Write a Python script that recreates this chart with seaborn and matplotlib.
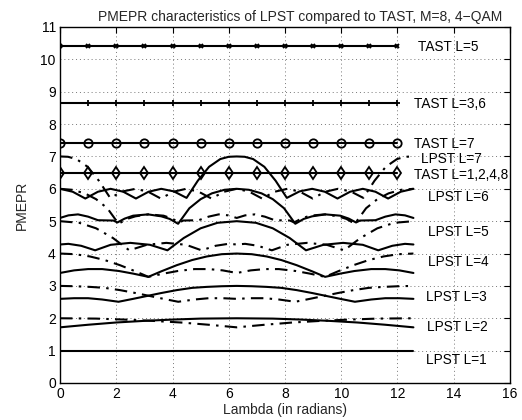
import matplotlib
matplotlib.use("Agg")
import matplotlib.pyplot as plt
import seaborn as sns

sns.set_theme(style="white")
plt.rcParams['font.family'] = ['Liberation Sans', 'DejaVu Sans']

# ---------------- data ----------------
tast_x = [0, 1, 2, 3, 4, 5, 6, 7, 8, 9, 10, 11, 12]
tast_l5 = [10.4, 10.4, 10.4, 10.4, 10.4, 10.4, 10.4, 10.4, 10.4, 10.4, 10.4, 10.4, 10.4]
tast_l36 = [8.66, 8.66, 8.66, 8.66, 8.66, 8.66, 8.66, 8.66, 8.66, 8.66, 8.66, 8.66, 8.66]
tast_l7 = [7.42, 7.42, 7.42, 7.42, 7.42, 7.42, 7.42, 7.42, 7.42, 7.42, 7.42, 7.42, 7.42]
tast_l1248 = [6.49, 6.49, 6.49, 6.49, 6.49, 6.49, 6.49, 6.49, 6.49, 6.49, 6.49, 6.49, 6.49]

l7_x = [0, 0.45, 0.9, 1.35, 1.8, 2.25, 2.7, 3.15, 3.6, 4.05, 4.5, 4.9, 5.3, 5.7, 6.0, 6.283,
        6.566, 6.866, 7.266, 7.666, 8.066, 8.516, 8.966, 9.416, 9.866, 10.316, 10.766, 11.216,
        11.666, 12.116, 12.566]
l7_y = [6.00, 5.91, 5.70, 5.91, 6.00, 5.91, 5.70, 5.91, 6.00, 5.92, 5.72, 6.25, 6.68, 6.92, 6.99, 7.00,
        6.99, 6.92, 6.68, 6.25, 5.72, 5.92, 6.00, 5.91, 5.70, 5.91, 6.00, 5.91, 5.70, 5.91, 6.00]
l7d_x = [0, 0.283, 0.583, 0.983, 1.383, 1.783, 2.233, 2.683, 3.133, 3.583, 4.033, 4.483, 4.933,
         5.383, 5.833, 6.283, 6.733, 7.183, 7.633, 8.083, 8.533, 8.983, 9.433, 9.883, 10.333,
         10.783, 11.183, 11.583, 11.983, 12.283, 12.566]
l7d_y = [7.00, 6.99, 6.92, 6.68, 6.25, 5.72, 5.92, 6.00, 5.91, 5.70, 5.91, 6.00, 5.91, 5.70, 5.91,
         6.00, 5.91, 5.70, 5.91, 6.00, 5.91, 5.70, 5.91, 6.00, 5.92, 5.72, 6.25, 6.68, 6.92, 6.99, 7.00]

l6_x = [0, 0.3, 0.64, 1.0, 1.35, 1.9, 2.04, 2.3, 2.6, 3.13, 3.6, 3.9, 4.2, 4.6, 5.0, 5.4, 5.85, 6.283,
        6.716, 7.166, 7.566, 7.966, 8.366, 8.666, 8.966, 9.436, 9.966, 10.266, 10.526, 10.666,
        11.216, 11.566, 11.926, 12.266, 12.566]
l6_y = [5.10, 5.18, 5.21, 5.14, 5.03, 5.02, 4.96, 5.08, 5.17, 5.21, 5.15, 5.07, 4.92, 5.40, 5.68, 5.86,
        5.97, 6.00, 5.97, 5.86, 5.68, 5.40, 4.92, 5.07, 5.15, 5.21, 5.17, 5.08, 4.96, 5.02, 5.03, 5.14,
        5.21, 5.18, 5.10]
l6d_x = [0, 0.433, 0.883, 1.283, 1.683, 2.083, 2.383, 2.683, 3.153, 3.683, 3.983, 4.243, 4.383,
         4.933, 5.283, 5.643, 5.983, 6.283, 6.583, 6.923, 7.283, 7.633, 8.183, 8.323, 8.583, 8.883,
         9.413, 9.883, 10.183, 10.483, 10.883, 11.283, 11.683, 12.133, 12.566]
l6d_y = [6.00, 5.97, 5.86, 5.68, 5.40, 4.92, 5.07, 5.15, 5.21, 5.17, 5.08, 4.96, 5.02, 5.03, 5.14,
         5.21, 5.18, 5.10, 5.18, 5.21, 5.14, 5.03, 5.02, 4.96, 5.08, 5.17, 5.21, 5.15, 5.07, 4.92,
         5.40, 5.68, 5.86, 5.97, 6.00]

l5_x = [0, 0.3, 0.75, 1.25, 1.8, 2.5, 3.2, 3.82, 4.4, 5.0, 5.6, 6.283, 6.966, 7.566, 8.166, 8.746,
        9.366, 10.066, 10.766, 11.316, 11.816, 12.266, 12.566]
l5_y = [4.28, 4.30, 4.24, 4.10, 4.27, 4.33, 4.27, 4.10, 4.48, 4.78, 4.95, 5.00, 4.95, 4.78, 4.48,
        4.10, 4.27, 4.33, 4.27, 4.10, 4.24, 4.30, 4.28]
l5d_x = [0, 0.683, 1.283, 1.883, 2.463, 3.083, 3.783, 4.483, 5.033, 5.533, 5.983, 6.283, 6.583,
         7.033, 7.533, 8.083, 8.783, 9.483, 10.103, 10.683, 11.283, 11.883, 12.566]
l5d_y = [5.00, 4.95, 4.78, 4.48, 4.10, 4.27, 4.33, 4.27, 4.10, 4.24, 4.30, 4.28, 4.30, 4.24, 4.10,
         4.27, 4.33, 4.27, 4.10, 4.48, 4.78, 4.95, 5.00]

l4_x = [0, 0.5, 1.0, 1.5, 2.1, 2.6, 3.14, 3.6, 4.15, 4.7, 5.22, 5.75, 6.283, 6.816, 7.346, 7.866,
        8.416, 8.966, 9.426, 9.966, 10.466, 11.066, 11.566, 12.066, 12.566]
l4_y = [3.40, 3.48, 3.52, 3.52, 3.46, 3.38, 3.28, 3.45, 3.64, 3.80, 3.91, 3.98, 4.00, 3.98, 3.91,
        3.80, 3.64, 3.45, 3.28, 3.38, 3.46, 3.52, 3.52, 3.48, 3.40]
l4d_x = [0, 0.533, 1.063, 1.583, 2.133, 2.683, 3.143, 3.683, 4.183, 4.783, 5.283, 5.783, 6.283,
         6.783, 7.283, 7.783, 8.383, 8.883, 9.423, 9.883, 10.433, 10.983, 11.503, 12.033, 12.566]
l4d_y = [4.00, 3.98, 3.91, 3.80, 3.64, 3.45, 3.28, 3.38, 3.46, 3.52, 3.52, 3.48, 3.40, 3.48, 3.52,
         3.52, 3.46, 3.38, 3.28, 3.45, 3.64, 3.80, 3.91, 3.98, 4.00]

l3_x = [0, 0.5, 1.0, 1.5, 2.08, 2.6, 3.1, 3.6, 4.15, 4.7, 5.22, 5.75, 6.283, 6.816, 7.346, 7.866,
        8.416, 8.966, 9.466, 9.966, 10.486, 11.066, 11.566, 12.066, 12.566]
l3_y = [2.60, 2.62, 2.62, 2.58, 2.51, 2.60, 2.69, 2.78, 2.87, 2.94, 2.97, 2.99, 3.00, 2.99, 2.97,
        2.94, 2.87, 2.78, 2.69, 2.60, 2.51, 2.58, 2.62, 2.62, 2.60]
l3d_x = [0, 0.533, 1.063, 1.583, 2.133, 2.683, 3.183, 3.683, 4.203, 4.783, 5.283, 5.783, 6.283,
         6.783, 7.283, 7.783, 8.363, 8.883, 9.383, 9.883, 10.433, 10.983, 11.503, 12.033, 12.566]
l3d_y = [3.00, 2.99, 2.97, 2.94, 2.87, 2.78, 2.69, 2.60, 2.51, 2.58, 2.62, 2.62, 2.60, 2.62, 2.62,
         2.58, 2.51, 2.60, 2.69, 2.78, 2.87, 2.94, 2.97, 2.99, 3.00]

l2_x = [0, 1, 2, 3, 4, 5, 6.283, 7.566, 8.566, 9.566, 10.566, 11.566, 12.566]
l2_y = [1.72, 1.80, 1.87, 1.92, 1.96, 1.99, 2.00, 1.99, 1.96, 1.92, 1.87, 1.80, 1.72]
l2d_x = [0, 1.283, 2.283, 3.283, 4.283, 5.283, 6.283, 7.283, 8.283, 9.283, 10.283, 11.283, 12.566]
l2d_y = [2.00, 1.99, 1.96, 1.92, 1.87, 1.80, 1.72, 1.80, 1.87, 1.92, 1.96, 1.99, 2.00]

l1_x = [0, 12.566]
l1_y = [1.00, 1.00]

label_text = ["TAST L=5", "TAST L=3,6", "TAST L=7", "LPST L=7", "TAST L=1,2,4,8",
              "LPST L=6", "LPST L=5", "LPST L=4", "LPST L=3", "LPST L=2", "LPST L=1"]
label_x = [12.72, 12.6, 12.58, 12.85, 12.58, 13.1, 13.1, 13.1, 13.0, 13.05, 13.0]
label_y = [10.38, 8.63, 7.38, 6.91, 6.44, 5.75, 4.67, 3.74, 2.66, 1.74, 0.71]

title = "PMEPR characteristics of LPST compared to TAST, M=8, 4\u2212QAM"
xlabel = "Lambda (in radians)"
ylabel = "PMEPR"

# ---------------- plot ----------------
fig = plt.figure(figsize=(5.22, 4.20), dpi=100)
ax = fig.add_axes([60 / 522, 1 - 383 / 420, 450 / 522, 356 / 420])

lw = 1.5
kw = dict(ax=ax, color="black", linewidth=lw, sort=False, estimator=None)

sns.lineplot(x=tast_x, y=tast_l5, marker="x", markersize=3.2, markeredgewidth=1.4,
             markeredgecolor="black", **kw)
sns.lineplot(x=tast_x, y=tast_l36, marker="+", markersize=5, markeredgewidth=1.3,
             markeredgecolor="black", **kw)
sns.lineplot(x=tast_x, y=tast_l7, marker="o", markersize=6, markerfacecolor="none",
             markeredgewidth=1.3, markeredgecolor="black", **kw)
sns.lineplot(x=tast_x, y=tast_l1248, marker="d", markersize=6.5, markerfacecolor="none",
             markeredgewidth=1.3, markeredgecolor="black", **kw)

solid = [(l7_x, l7_y), (l6_x, l6_y), (l5_x, l5_y), (l4_x, l4_y), (l3_x, l3_y), (l2_x, l2_y), (l1_x, l1_y)]
dashed = [(l7d_x, l7d_y), (l6d_x, l6d_y), (l5d_x, l5d_y), (l4d_x, l4d_y), (l3d_x, l3d_y), (l2d_x, l2d_y)]
for xs, ys in solid:
    sns.lineplot(x=xs, y=ys, linestyle="-", **kw)
for xs, ys in dashed:
    sns.lineplot(x=xs, y=ys, linestyle=(0, (6, 3, 1.2, 3)), **kw)

for s, x, y in zip(label_text, label_x, label_y):
    ax.text(x, y, s, ha="left", va="center", fontsize=9.8, color="black")

ax.set_xlim(0, 16)
ax.set_ylim(0, 11)
ax.set_xticks(range(0, 17, 2))
ax.set_yticks(range(0, 12))
ax.tick_params(direction="in", length=4, width=0.8, top=True, right=True,
               labelsize=10, colors="black", pad=3)
ax.grid(True, linestyle=(0, (1, 3)), color="#777777", linewidth=0.7)
for sp in ax.spines.values():
    sp.set_color("black")
    sp.set_linewidth(1.0)
ax.set_title(title, fontsize=10, x=0.534, pad=4)
ax.set_xlabel(xlabel, fontsize=10, labelpad=1)
ax.set_ylabel(ylabel, fontsize=10, labelpad=8)

fig.savefig("out.png", dpi=100, facecolor="white")
